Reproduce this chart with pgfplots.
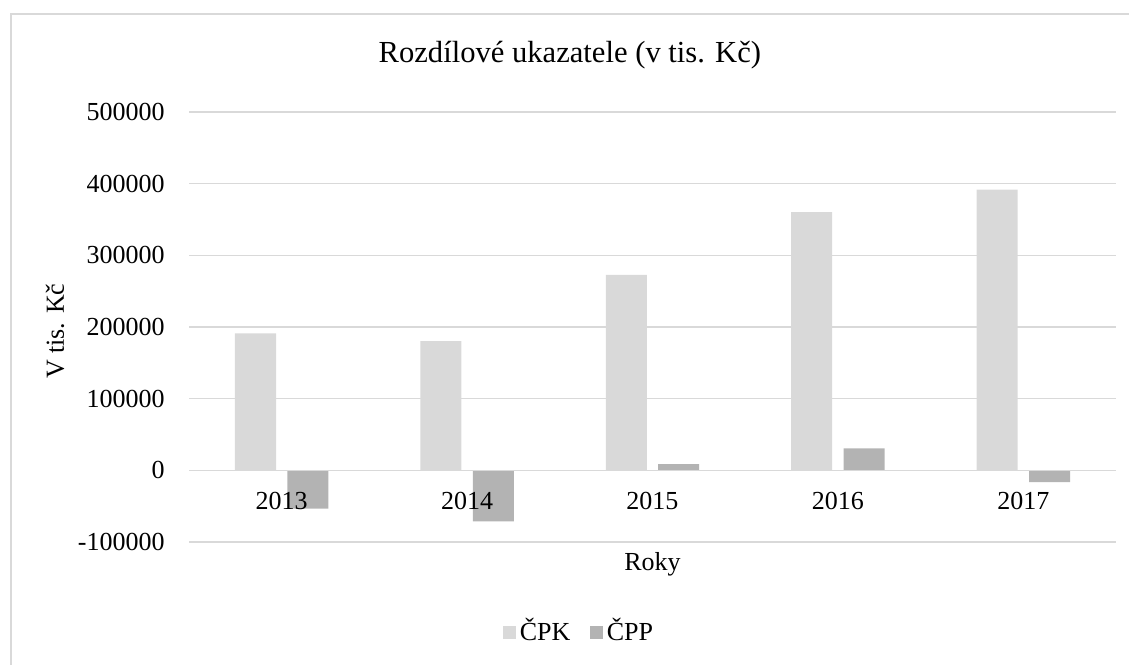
\documentclass[border=0pt]{standalone}
\usepackage{pgfplots}
\pgfplotsset{compat=1.18}
\usetikzlibrary{calc}
\usepackage{fontspec}
\setmainfont{Liberation Serif}
\definecolor{gridgray}{HTML}{D9D9D9}
\definecolor{cpk}{HTML}{D9D9D9}
\definecolor{cpp}{HTML}{B3B3B3}
\newcommand{\lblfont}{\fontsize{13}{15}\selectfont}
\begin{document}
\begin{tikzpicture}[x=0.5pt,y=0.5pt]
\begin{axis}[
  set layers,
  scale only axis, width=463.5pt, height=215pt,
  ybar=5.7pt, bar width=20.5pt,
  xmin=-0.5, xmax=4.5,
  xtick={0,1,2,3,4}, xticklabels={2013,2014,2015,2016,2017},
  ymin=-100000, ymax=500000,
  ytick={-100000,0,100000,200000,300000,400000,500000},
  yticklabels={-100000,0,100000,200000,300000,400000,500000},
  scaled y ticks=false,
  axis x line*=middle, axis y line*=left,
  x axis line style={draw=gridgray, line width=0.75pt, -},
  y axis line style={draw=none},
  major tick length=0pt,
  ymajorgrids, grid style={draw=gridgray, line width=0.75pt},
  tick label style={font=\lblfont, text=black},
  xticklabel style={anchor=base, inner sep=0pt, yshift=-19.5pt},
  yticklabel style={anchor=east, inner sep=0pt, xshift=-12pt},
  ylabel={V tis. Kč},
  ylabel style={at={(axis description cs:-0.1446,0.49)}, anchor=center, inner sep=0pt, font=\lblfont},
  xlabel={Roky},
  xlabel style={at={(axis description cs:0.5,-0.0674)}, anchor=base, inner sep=0pt, font=\lblfont},
  title={Rozdílové ukazatele (v tis. Kč)},
  every axis title shift=0pt,
  title style={at={(axis description cs:0.2042,1.114)}, anchor=base west, inner sep=0pt, font=\fontsize{15.3}{18}\selectfont},
  legend columns=2,
  legend style={at={(axis description cs:0.4218,-0.207)}, anchor=center,
    draw=none, fill=none, font=\lblfont,
    /tikz/every even column/.append style={column sep=7.8pt}},
]
\addplot[fill=cpk, draw=none, on layer=axis ticks,
  legend image code/.code={\fill[cpk] (0pt,-4pt) rectangle (6.4pt,2.4pt);}]
  coordinates {(0,191000) (1,180400) (2,272700) (3,360400) (4,391600)};
\addplot[fill=cpp, draw=none, on layer=axis ticks,
  legend image code/.code={\fill[cpp] (0pt,-4pt) rectangle (6.4pt,2.4pt);}]
  coordinates {(0,-53600) (1,-71300) (2,8800) (3,30800) (4,-16400)};
\legend{ČPK,ČPP}
\coordinate (sw) at (rel axis cs:0,0);
\end{axis}
\pgfresetboundingbox
\path[use as bounding box] ($(sw)+(-189,-122)$) rectangle ($(sw)+(940,542)$);
% chart frame (only left and top edges are visible)
\draw[gridgray, line width=0.6pt] ($(sw)+(-178,-130)$) -- ($(sw)+(-178,528)$) -- ($(sw)+(946,528)$);
\end{tikzpicture}
\end{document}
